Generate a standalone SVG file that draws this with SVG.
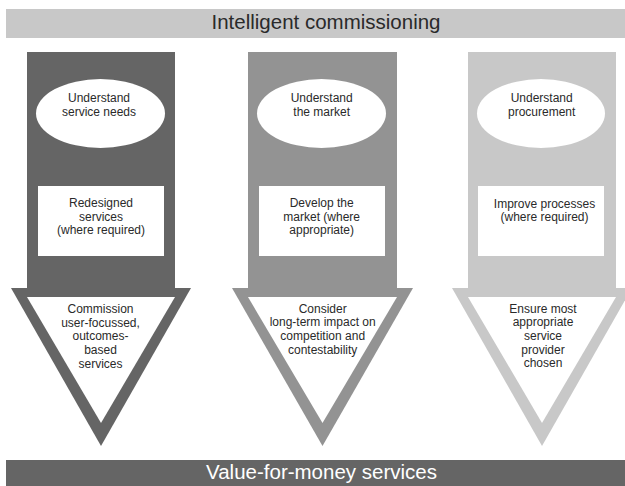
<svg xmlns="http://www.w3.org/2000/svg" width="625" height="486" viewBox="0 0 625 486">
<style>
.t{font-family:"Liberation Sans",Arial,sans-serif;font-size:12px;fill:#2a2a2a;text-anchor:middle}
.h{font-family:"Liberation Sans",Arial,sans-serif;font-size:20.5px;text-anchor:middle}
.w{fill:#ffffff}
.c1{fill:#656565}
.c2{fill:#939393}
.c3{fill:#c8c8c8}
</style>
<rect width="625" height="486" fill="#ffffff"/>
<g id="top-bar">
<rect x="6" y="9" width="619" height="29" class="c3"/>
<text x="326" y="29" class="h" fill="#2a2a2a">Intelligent commissioning</text>
</g>
<g id="column1">
<rect x="27" y="52" width="148" height="237" class="c1"/>
<polygon points="11,288 191,288 101,446" class="c1"/>
<polygon points="27,297 175,297 101,423" class="w"/>
</g>
<g id="column2">
<rect x="248" y="52" width="149" height="237" class="c2"/>
<polygon points="232,288 413,288 322.5,446" class="c2"/>
<polygon points="248,297 397,297 322.5,423" class="w"/>
</g>
<g id="column3">
<rect x="468" y="52" width="148" height="237" class="c3"/>
<polygon points="452,288 632,288 542,446" class="c3"/>
<polygon points="468,297 616,297 542,423" class="w"/>
</g>
<g id="n1-ellipse">
<ellipse cx="100.5" cy="113.5" rx="64.5" ry="34.5" class="w"/>
<text class="t" x="99" y="102">Understand</text>
<text class="t" x="99" y="116">service needs</text>
</g>
<g id="n1-box">
<rect x="38" y="186" width="126" height="70" class="w"/>
<text class="t" x="101" y="207">Redesigned</text>
<text class="t" x="101" y="220.5">services</text>
<text class="t" x="101" y="234">(where required)</text>
</g>
<g id="n1-triangle">
<text class="t" x="100.5" y="313">Commission</text>
<text class="t" x="100.5" y="326.7">user-focussed,</text>
<text class="t" x="100.5" y="340.4">outcomes-</text>
<text class="t" x="100.5" y="354.1">based</text>
<text class="t" x="100.5" y="367.8">services</text>
</g>
<g id="n2-ellipse">
<ellipse cx="321.5" cy="113.5" rx="64.5" ry="34.5" class="w"/>
<text class="t" x="321.7" y="102">Understand</text>
<text class="t" x="321.7" y="116">the market</text>
</g>
<g id="n2-box">
<rect x="259" y="186" width="126" height="70" class="w"/>
<text class="t" x="321.7" y="207">Develop the</text>
<text class="t" x="321.7" y="220.5">market (where</text>
<text class="t" x="321.7" y="234">appropriate)</text>
</g>
<g id="n2-triangle">
<text class="t" x="322.7" y="312.5">Consider</text>
<text class="t" x="322.7" y="326.2">long-term impact on</text>
<text class="t" x="322.7" y="339.9">competition and</text>
<text class="t" x="322.7" y="353.6">contestability</text>
</g>
<g id="n3-ellipse">
<ellipse cx="541" cy="113.5" rx="64" ry="34.5" class="w"/>
<text class="t" x="541.7" y="102">Understand</text>
<text class="t" x="541.7" y="116">procurement</text>
</g>
<g id="n3-box">
<rect x="478" y="186" width="126" height="70" class="w"/>
<text class="t" x="544.5" y="207.5">Improve processes</text>
<text class="t" x="544.5" y="221">(where required)</text>
</g>
<g id="n3-triangle">
<text class="t" x="543" y="312.5">Ensure most</text>
<text class="t" x="543" y="326.2">appropriate</text>
<text class="t" x="543" y="339.9">service</text>
<text class="t" x="543" y="353.6">provider</text>
<text class="t" x="543" y="367.3">chosen</text>
</g>
<g id="bottom-bar">
<rect x="6" y="460" width="619" height="26" class="c1"/>
<text x="321.5" y="478.5" class="h" fill="#ffffff">Value-for-money services</text>
</g>
</svg>
